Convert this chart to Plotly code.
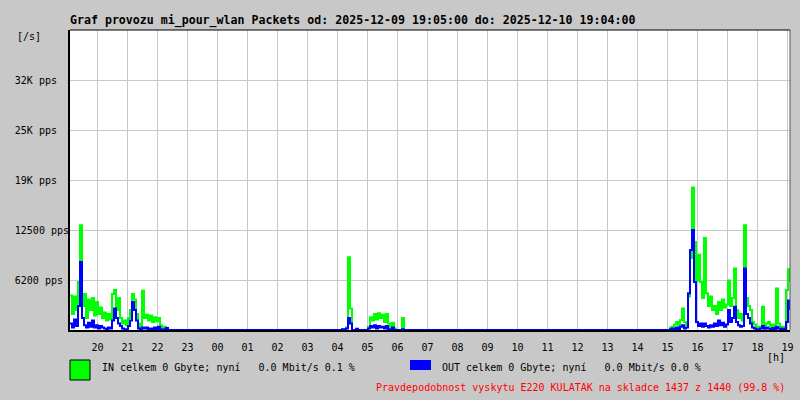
import numpy as np
import plotly.graph_objects as go

# Sample times are minutes after 2025-12-09 19:00, one sample every 4 minutes.
STEP_MIN = 4
segment_starts = [5, 545, 597, 1201]

in_evening = [4300, 2000, 4200, 2500, 6000, 13100, 3000, 4500, 1500, 3800,
              2500, 4000, 1800, 3500, 2000, 2800, 1500, 2200, 1200, 2000,
              1300, 4500, 5000, 2500, 4000, 1500, 800, 1200, 600, 1500,
              2500, 4500, 3800, 2000, 800, 300, 4900, 1500, 1900, 1200,
              1800, 1000, 1600, 1100, 1500, 600, 300, 400, 200, 0]
out_evening = [800, 300, 1300, 500, 3000, 8500, 1500, 600, 300, 900,
               400, 1200, 300, 600, 200, 500, 300, 200, 100, 300,
               200, 1200, 2700, 1500, 800, 500, 200, 100, 100, 500,
               1200, 3500, 2500, 1200, 200, 100, 300, 200, 300, 100,
               200, 100, 300, 100, 400, 100, 100, 50, 250, 0]

in_spike = [0, 100, 0, 300, 9100, 2700, 0, 0, 100, 0]
out_spike = [0, 100, 0, 200, 1500, 800, 0, 0, 150, 0]

in_morning = [0, 400, 1600, 1200, 2000, 1300, 2100, 1500, 1900, 1000,
              2000, 800, 300, 900, 200, 0, 0, 0, 1500, 0]
out_morning = [0, 200, 500, 300, 600, 200, 500, 300, 400, 200,
               500, 100, 50, 300, 0, 0, 0, 0, 100, 0]

in_afternoon = [0, 300, 400, 700, 1000, 600, 1250, 2700, 1000, 600,
                4200, 9000, 17800, 11000, 6200, 9400, 6000, 4000, 11500, 4600,
                3000, 4200, 2500, 3000, 2000, 3500, 2500, 3800, 2800, 3200,
                6200, 3000, 4000, 7700, 2500, 1500, 2000, 1200, 13100, 4000,
                3000, 2500, 1000, 700, 400, 300, 400, 2900, 600, 800,
                1000, 500, 700, 400, 5200, 800, 300, 400, 200, 5000,
                7600, 6000]
out_afternoon = [0, 100, 200, 100, 300, 100, 400, 600, 200, 300,
                 4600, 10000, 12500, 6000, 1000, 500, 800, 400, 800, 500,
                 300, 600, 400, 800, 500, 1200, 600, 900, 400, 700,
                 2500, 1000, 1500, 2900, 1000, 600, 400, 500, 7700, 2000,
                 1500, 800, 300, 200, 100, 100, 200, 500, 150, 300,
                 200, 100, 250, 100, 400, 200, 100, 150, 100, 1000,
                 3700, 2500]

y_tickvals = [6250, 12500, 18750, 25000, 31250]
y_ticktext = ["6200 pps", "12500 pps", "19K pps", "25K pps", "32K pps"]
x_tickvals = list(range(60, 1441, 60))
x_ticktext = ["20", "21", "22", "23", "00", "01", "02", "03", "04", "05", "06",
              "07", "08", "09", "10", "11", "12", "13", "14", "15", "16", "17",
              "18", "19"]

title = ("Graf provozu mi_pour_wlan Packets od: 2025-12-09 19:05:00 "
         "do: 2025-12-10 19:04:00")
in_label = "IN celkem 0 Gbyte; nyní   0.0 Mbit/s 0.1 %"
out_label = "OUT celkem 0 Gbyte; nyní   0.0 Mbit/s 0.0 %"
footer = "Pravdepodobnost vyskytu E220 KULATAK na skladce 1437 z 1440 (99.8 %)"

segments_in = [in_evening, in_spike, in_morning, in_afternoon]
segments_out = [out_evening, out_spike, out_morning, out_afternoon]

minutes = np.concatenate([start + STEP_MIN * np.arange(len(vals))
                          for start, vals in zip(segment_starts, segments_in)])
in_pps = np.concatenate(segments_in)
out_pps = np.concatenate(segments_out)

W, H = 800, 400
L, R, T, B = 70, 10, 30, 70
MONO = "DejaVu Sans Mono"
BG = "#c8c8c8"


def px(x):
    return (x - L) / (W - L - R)


def py(y):
    return (H - B - y) / (H - T - B)


def mono(text):
    return text.replace(" ", "\u00a0")


# pad tick labels so right-aligned monospace text lines up on the left
width = max(len(t) for t in y_ticktext)
y_ticktext_padded = [mono(t.ljust(width)) for t in y_ticktext]

fig = go.Figure()
fig.add_trace(go.Scatter(
    x=minutes, y=in_pps, mode="lines", line=dict(color="#00ff00", width=2, shape="hv"),
    name="IN", showlegend=False
))
fig.add_trace(go.Scatter(
    x=minutes, y=out_pps, mode="lines", line=dict(color="#0000ff", width=2, shape="hv"),
    name="OUT", showlegend=False
))

fig.update_layout(
    width=W, height=H,
    margin=dict(l=L, r=R, t=T, b=B, autoexpand=False),
    paper_bgcolor=BG,
    plot_bgcolor="white",
    font=dict(family=MONO, size=10, color="black"),
    title=dict(text="<b>" + mono(title) + "</b>", x=px(70), xref="paper", xanchor="left",
               y=1 - 19.5 / H, yref="container", yanchor="middle", automargin=False,
               font=dict(family=MONO, size=11.6, color="black")),
    xaxis=dict(range=[5, 1445], tickvals=x_tickvals, ticktext=x_ticktext,
               showgrid=True, gridcolor="#c8c8c8", gridwidth=1, zeroline=False,
               showline=True, linecolor="black", linewidth=2, automargin=False,
               ticks="", ticklabelstandoff=7, tickfont=dict(size=10)),
    yaxis=dict(range=[0, 37500], tickvals=y_tickvals, ticktext=y_ticktext_padded,
               showgrid=True, gridcolor="#c8c8c8", gridwidth=1, zeroline=False,
               showline=True, linecolor="black", linewidth=2, automargin=False,
               ticks="", ticklabelstandoff=-3, tickfont=dict(size=10)),
    shapes=[
        dict(type="line", xref="paper", yref="paper", x0=0, x1=1, y0=1, y1=1,
             line=dict(color="black", width=1)),
        dict(type="line", xref="paper", yref="paper", x0=1, x1=1, y0=0, y1=1,
             line=dict(color="#555555", width=1)),
        dict(type="rect", xref="paper", yref="paper", x0=px(70), x1=px(90),
             y0=py(360), y1=py(380), fillcolor="#00ff00", line=dict(color="black", width=1)),
        dict(type="rect", xref="paper", yref="paper", x0=px(410), x1=px(431),
             y0=py(360), y1=py(370), fillcolor="#0000ff", line=dict(width=0)),
    ],
    annotations=[
        dict(text="[/s]", xref="paper", yref="paper", x=px(15), y=py(37),
             xanchor="left", yanchor="middle", showarrow=False),
        dict(text="[h]", xref="paper", yref="paper", x=px(787), y=py(357),
             xanchor="right", yanchor="middle", showarrow=False),
        dict(text=mono(in_label), xref="paper", yref="paper", x=px(100), y=py(367),
             xanchor="left", yanchor="middle", showarrow=False),
        dict(text=mono(out_label), xref="paper", yref="paper", x=px(440), y=py(367),
             xanchor="left", yanchor="middle", showarrow=False),
        dict(text=mono(footer), xref="paper", yref="paper", x=px(787), y=py(387),
             xanchor="right", yanchor="middle", showarrow=False,
             font=dict(color="#ff0000")),
    ],
)

# drop the browser's default body margin so the figure sits at the page corner
fig.write_html("out.html", config={"displayModeBar": False},
               post_script="document.body.style.margin = '0';")
